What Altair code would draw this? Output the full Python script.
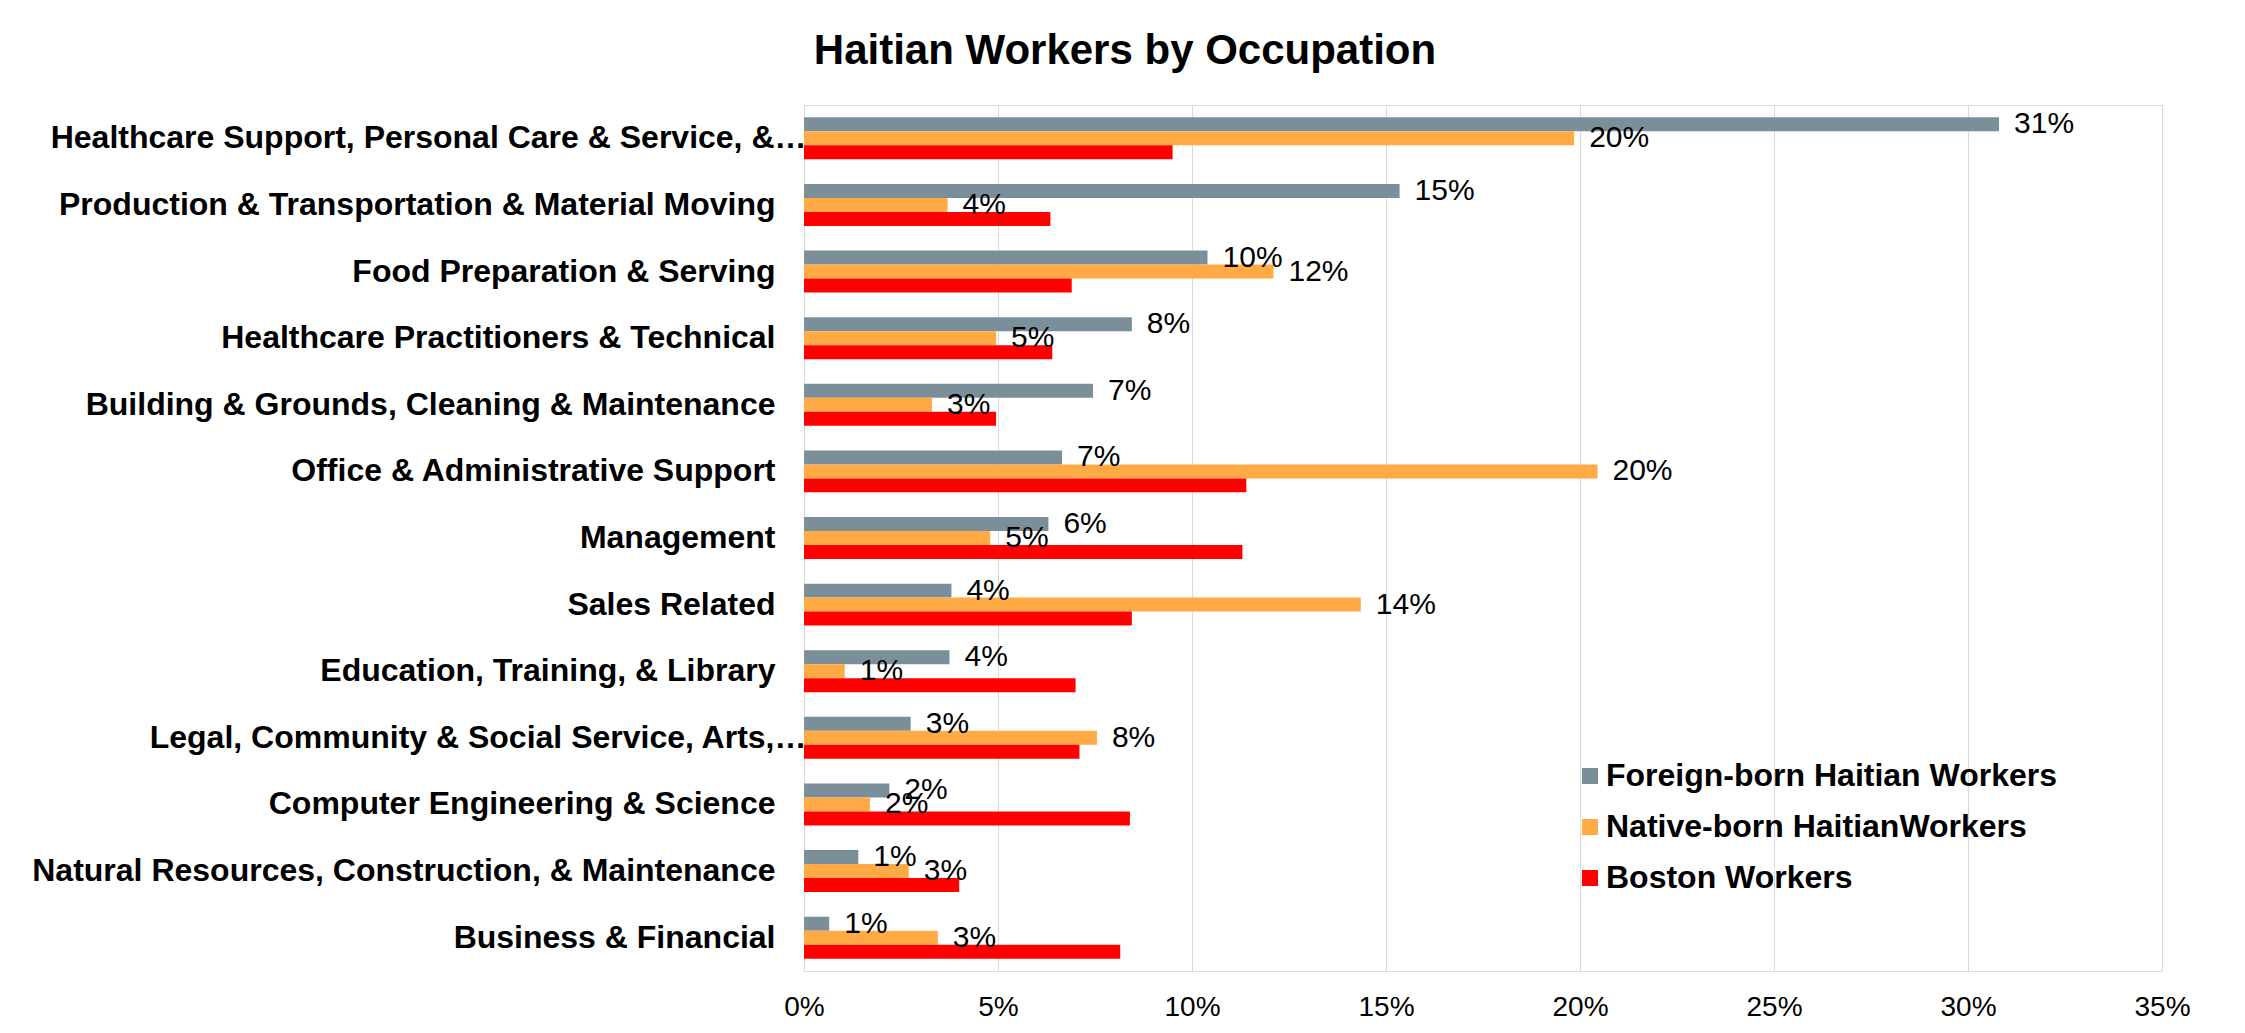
import altair as alt
import pandas as pd

categories = [
    "Healthcare Support, Personal Care & Service, &…",
    "Production & Transportation & Material Moving",
    "Food Preparation & Serving",
    "Healthcare Practitioners & Technical",
    "Building & Grounds, Cleaning & Maintenance",
    "Office & Administrative Support",
    "Management",
    "Sales Related",
    "Education, Training, & Library",
    "Legal, Community & Social Service, Arts,…",
    "Computer Engineering & Science",
    "Natural Resources, Construction, & Maintenance",
    "Business & Financial",
]
series_names = ["Foreign-born Haitian Workers", "Native-born HaitianWorkers", "Boston Workers"]
foreign_born = [30.8, 15.35, 10.4, 8.45, 7.45, 6.65, 6.3, 3.8, 3.75, 2.75, 2.2, 1.4, 0.65]
native_born = [19.85, 3.7, 12.1, 4.95, 3.3, 20.45, 4.8, 14.35, 1.05, 7.55, 1.7, 2.7, 3.45]
boston = [9.5, 6.35, 6.9, 6.4, 4.95, 11.4, 11.3, 8.45, 7.0, 7.1, 8.4, 4.0, 8.15]
colors = ["#7A8F9A", "#FFAA44", "#FF0000"]
x_ticks = [0, 0.05, 0.10, 0.15, 0.20, 0.25, 0.30, 0.35]

rows = []
for i, c in enumerate(categories):
    for s, vals in zip(series_names, [foreign_born, native_born, boston]):
        rows.append({"category": c, "series": s, "value": vals[i] / 100})
df = pd.DataFrame(rows)

FONT = "Liberation Sans"

y_scale = alt.Scale(domain=categories, paddingInner=0.37, paddingOuter=0.185)
off_scale = alt.Scale(domain=series_names)
x_scale = alt.Scale(domain=[0, 0.35], nice=False)

bars = alt.Chart(df).mark_bar().encode(
    x=alt.X("value:Q", scale=x_scale,
            axis=alt.Axis(format=".0%", values=x_ticks, title=None, ticks=False,
                          domain=False, grid=True, gridColor="#D9D9D9", gridWidth=1,
                          labelFontSize=28, labelFont=FONT, labelColor="#000000",
                          labelPadding=22, labelFlush=False)),
    y=alt.Y("category:N", sort=categories, scale=y_scale,
            axis=alt.Axis(title=None, ticks=False, domain=False, labelFont=FONT,
                          labelFontWeight="bold", labelFontSize=32, labelColor="#000000",
                          labelLimit=0,
                          labelPadding={"condition": {"test": "indexof(datum.label, '…') >= 0",
                                                      "value": -2},
                                        "value": 29})),
    yOffset=alt.YOffset("series:N", sort=series_names, scale=off_scale),
    color=alt.Color("series:N", sort=series_names,
                    scale=alt.Scale(domain=series_names, range=colors),
                    legend=alt.Legend(title=None, orient="none", legendX=770, legendY=655,
                                      symbolType="square", symbolSize=256,
                                      symbolStrokeWidth=0, labelFont=FONT,
                                      labelFontSize=32, labelFontWeight="bold",
                                      labelColor="#000000", rowPadding=19,
                                      labelOffset=0, labelLimit=0)),
)

labels = alt.Chart(df).transform_filter(
    alt.datum.series != "Boston Workers"
).mark_text(align="left", baseline="middle", dx=15, fontSize=30, font=FONT,
            color="#000000").encode(
    x=alt.X("value:Q", scale=x_scale),
    y=alt.Y("category:N", sort=categories, scale=y_scale),
    yOffset=alt.YOffset("series:N", sort=series_names, scale=off_scale),
    text=alt.Text("value:Q", format=".0%"),
)

chart = alt.layer(bars, labels).properties(
    width=1358,
    height=866,
    title=alt.TitleParams("Haitian Workers by Occupation", font=FONT, fontSize=42,
                          fontWeight="bold", color="#000000", anchor="middle",
                          dx=-358, offset=32),
    autosize=alt.AutoSizeParams(type="none"),
    padding={"left": 796, "top": 97, "right": 70, "bottom": 50},
).configure_view(stroke=None).configure(background="white")

chart.save("out.html", embed_options={"renderer": "svg", "actions": False})
